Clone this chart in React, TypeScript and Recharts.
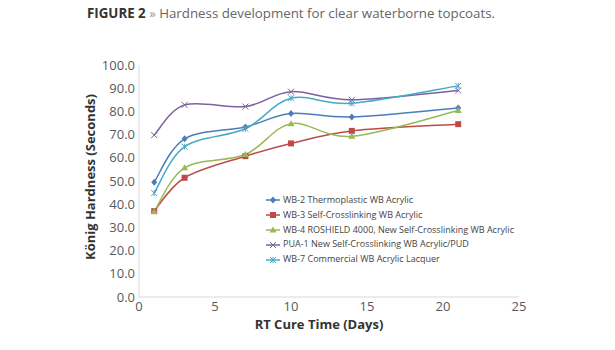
import { LineChart, Line, XAxis, YAxis } from "recharts";

// RT cure time (days) and König hardness (seconds) per coating
const days = [1, 3, 7, 10, 14, 21];
const wb2 = [49.5, 68.2, 73.3, 79.1, 77.6, 81.5];
const wb3 = [37.0, 51.4, 60.7, 66.2, 71.6, 74.5];
const wb4 = [36.8, 55.7, 61.4, 74.7, 69.3, 80.4];
const pua1 = [69.8, 82.8, 82.1, 88.5, 85.0, 89.0];
const wb7 = [44.8, 64.8, 72.5, 85.7, 83.5, 91.0];

const xTicks = [0, 5, 10, 15, 20, 25];
const yTicks = [0, 10, 20, 30, 40, 50, 60, 70, 80, 90, 100];

const names = [
  "WB-2 Thermoplastic WB Acrylic",
  "WB-3 Self-Crosslinking WB Acrylic",
  "WB-4 ROSHIELD 4000, New Self-Crosslinking WB Acrylic",
  "PUA-1 New Self-Crosslinking WB Acrylic/PUD",
  "WB-7 Commercial WB Acrylic Lacquer",
];

const series = [
  { key: "wb2", name: names[0], color: "#4a7ebb", shape: "diamond" },
  { key: "wb3", name: names[1], color: "#be4b48", shape: "square" },
  { key: "wb4", name: names[2], color: "#98b954", shape: "triangle" },
  { key: "pua1", name: names[3], color: "#7d60a0", shape: "x" },
  { key: "wb7", name: names[4], color: "#46aac5", shape: "star" },
];

const data = days.map((d, i) => ({
  day: d,
  wb2: wb2[i],
  wb3: wb3[i],
  wb4: wb4[i],
  pua1: pua1[i],
  wb7: wb7[i],
}));

const FONT = "'Open Sans', sans-serif";

// excel-ish smoothed line (catmull-rom through the points)
const smooth = (ctx: any) => {
  let pts: number[][] = [];
  return {
    areaStart() {},
    areaEnd() {},
    lineStart() {
      pts = [];
    },
    point(x: number, y: number) {
      pts.push([+x, +y]);
    },
    lineEnd() {
      if (!pts.length) return;
      ctx.moveTo(pts[0][0], pts[0][1]);
      for (let i = 0; i < pts.length - 1; i++) {
        const p0 = pts[i - 1] || pts[i];
        const p1 = pts[i];
        const p2 = pts[i + 1];
        const p3 = pts[i + 2] || p2;
        ctx.bezierCurveTo(
          p1[0] + (p2[0] - p0[0]) / 6,
          p1[1] + (p2[1] - p0[1]) / 6,
          p2[0] - (p3[0] - p1[0]) / 6,
          p2[1] - (p3[1] - p1[1]) / 6,
          p2[0],
          p2[1]
        );
      }
    },
  };
};

function Marker({ cx, cy, shape, color }: any) {
  if (cx == null || cy == null) return null;
  if (shape === "diamond")
    return <polygon points={`${cx},${cy - 3.5} ${cx + 3},${cy} ${cx},${cy + 3.5} ${cx - 3},${cy}`} fill={color} />;
  if (shape === "square") return <rect x={cx - 3} y={cy - 3} width={6} height={6} fill={color} />;
  if (shape === "triangle")
    return <polygon points={`${cx},${cy - 3.5} ${cx + 3.5},${cy + 2.5} ${cx - 3.5},${cy + 2.5}`} fill={color} />;
  const s = 3;
  return (
    <g stroke={color} strokeWidth={1}>
      <line x1={cx - s} y1={cy - s} x2={cx + s} y2={cy + s} />
      <line x1={cx - s} y1={cy + s} x2={cx + s} y2={cy - s} />
      {shape === "star" && <line x1={cx} y1={cy - s} x2={cx} y2={cy + s} />}
    </g>
  );
}

function LegendBox() {
  return (
    <div
      style={{
        position: "absolute",
        left: 264,
        top: 193,
        fontFamily: FONT,
        fontSize: 9,
        color: "#444",
        lineHeight: "14.8px",
      }}
    >
      {series.map((s) => (
        <div key={s.key} style={{ display: "flex", alignItems: "center", whiteSpace: "nowrap" }}>
          <svg width={18} height={10} style={{ marginRight: 1 }}>
            <line x1={2} y1={5} x2={16} y2={5} stroke={s.color} strokeWidth={1.5} />
            <Marker cx={9} cy={5} shape={s.shape} color={s.color} />
          </svg>
          <span>{s.name}</span>
        </div>
      ))}
    </div>
  );
}

export default function App() {
  return (
    <div style={{ position: "relative", width: 615, height: 350, margin: -8, background: "#fff", fontFamily: FONT }}>
      <div style={{ position: "absolute", left: 87, top: 4, fontSize: 13.3, color: "#666", whiteSpace: "nowrap" }}>
        <span style={{ fontWeight: 700, color: "#333" }}>FIGURE 2</span>
        <span style={{ color: "#999" }}> » </span>
        Hardness development for clear waterborne topcoats.
      </div>
      <LineChart
        width={615}
        height={350}
        data={data}
        margin={{ top: 65, right: 96, bottom: 23, left: 89 }}
        style={{ position: "absolute", left: 0, top: 0 }}
      >
        <XAxis
          dataKey="day"
          type="number"
          domain={[0, 25]}
          ticks={xTicks}
          tickLine={false}
          tickSize={0}
          tickMargin={5}
          stroke="#d9d9d9"
          tick={{ fill: "#595959", fontSize: 13, fontFamily: FONT }}
          label={{
            content: ({ viewBox }: any) => (
              <text
                x={viewBox.x + viewBox.width / 2 - 10}
                y={viewBox.y + 32}
                textAnchor="middle"
                fontSize={13}
                fontWeight={700}
                fill="#333"
                fontFamily={FONT}
              >
                RT Cure Time (Days)
              </text>
            ),
          }}
        />
        <YAxis
          type="number"
          domain={[0, 100]}
          ticks={yTicks}
          width={50}
          tickLine={false}
          tickSize={0}
          tickMargin={4}
          stroke="#d9d9d9"
          tickFormatter={(v: number) => v.toFixed(1)}
          tick={{ fill: "#595959", fontSize: 13, fontFamily: FONT }}
          label={{
            content: ({ viewBox }: any) => {
              const x = viewBox.x + 6;
              const y = viewBox.y + viewBox.height / 2 - 4;
              return (
                <text
                  x={x}
                  y={y}
                  transform={`rotate(-90 ${x} ${y})`}
                  textAnchor="middle"
                  fontSize={13}
                  fontWeight={700}
                  fill="#333"
                  fontFamily={FONT}
                >
                  König Hardness (Seconds)
                </text>
              );
            },
          }}
        />
        {series.map((s) => (
          <Line
            key={s.key}
            dataKey={s.key}
            name={s.name}
            type={smooth as any}
            stroke={s.color}
            strokeWidth={1.5}
            isAnimationActive={false}
            dot={(p: any) => <Marker key={p.index} cx={p.cx} cy={p.cy} shape={s.shape} color={s.color} />}
            activeDot={false}
          />
        ))}
      </LineChart>
      <LegendBox />
    </div>
  );
}
